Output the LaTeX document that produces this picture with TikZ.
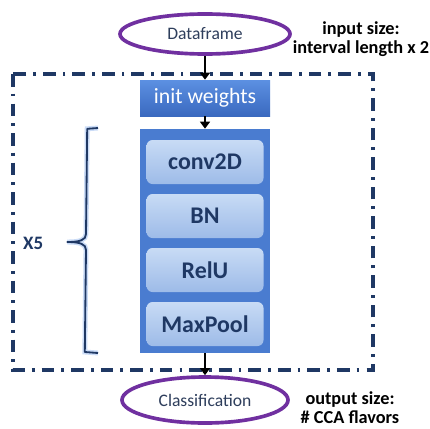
\documentclass[tikz,border=0pt]{standalone}
\usepackage{fontspec}
\setmainfont{Carlito}
\usepackage{xcolor}
\usetikzlibrary{shapes.geometric,arrows.meta}
\definecolor{CNPurple}{HTML}{7030A0}
\definecolor{CNNavy}{HTML}{1F3864}
\definecolor{CNInk}{HTML}{2E3E5C}
\definecolor{CNBlue}{HTML}{4A7CD0}
\definecolor{CNBlueTop}{HTML}{5C90E2}
\definecolor{CNBlueBot}{HTML}{3A69BF}
\definecolor{CNPaleTop}{HTML}{C8DBF5}
\definecolor{CNPaleBot}{HTML}{9DBBE8}
\definecolor{CNGlow}{HTML}{A9C6F2}

\tikzset{
  ioellipse/.style={ellipse,draw=CNPurple,line width=2.6pt,fill=white,inner sep=0pt,
    text=CNInk,font=\fontsize{12.5}{14}\selectfont},
  sizelabel/.style={align=center,font=\bfseries\fontsize{13}{13.5}\selectfont},
  layerbox/.style={rectangle,rounded corners=0.15cm,minimum width=2.925cm,minimum height=1.1cm,
    top color=CNPaleTop,bottom color=CNPaleBot,text=CNNavy,font=\bfseries\fontsize{17}{19}\selectfont},
  flowarrow/.style={-{Triangle[length=5pt,width=7pt]},line width=1.4pt,black}
}

\begin{document}
\begin{tikzpicture}[x=1cm,y=1cm]
\path[use as bounding box] (0,0) rectangle (10.75,10.70);
\fill[white] (0,0) rectangle (10.75,10.70);
% repeated block
\draw[CNNavy,line width=2.2pt,dash pattern=on 9pt off 5pt on 2pt off 5pt] (0.325,8.85) rectangle (9.325,1.45);
% input and output
\node[ioellipse,minimum width=4.25cm,minimum height=1.0cm] (data) at (5.125,9.85) {Dataframe};
\node[sizelabel] (insize) at (9.025,9.72) {input size:\\interval length x 2};
\node[ioellipse,minimum width=4.15cm,minimum height=1.15cm] (cls) at (5.125,0.70) {Classification};
\node[sizelabel] (outsize) at (8.75,0.50) {output size:\\\# CCA flavors};
% network
\node[rectangle,minimum width=3.25cm,minimum height=0.9cm,top color=CNBlueTop,bottom color=CNBlueBot,
  text=white,font=\fontsize{15.5}{17}\selectfont] (init) at (5.125,8.25) {init weights};
\node[rectangle,minimum width=3.25cm,minimum height=5.6cm,fill=CNBlue] (stack) at (5.125,4.675) {};
\node[layerbox] (conv) at (5.125,6.65) {conv2D};
\node[layerbox] (bn) at (5.125,5.30) {BN};
\node[layerbox] (relu) at (5.125,3.95) {RelU};
\node[layerbox] (pool) at (5.125,2.60) {MaxPool};
% brace
\draw[CNNavy,line width=1.3pt,line join=round,preaction={draw=CNGlow,line width=3.5pt,opacity=.6}]
  (2.45,7.50) -- (2.18,7.48) -- (2.15,4.85) .. controls (2.15,4.70) and (2.00,4.65) .. (1.68,4.65)
  .. controls (2.00,4.65) and (2.15,4.60) .. (2.15,4.45) -- (2.12,1.90) -- (2.45,1.875);
\node[font=\bfseries\fontsize{13.5}{15}\selectfont,text=CNNavy] (reps) at (0.83,4.62) {X5};
% flow
\draw[flowarrow] (data.south) -- (init.north);
\draw[flowarrow] (init.south) -- (stack.north);
\draw[flowarrow] (stack.south) -- (cls.north);
\end{tikzpicture}
\end{document}
